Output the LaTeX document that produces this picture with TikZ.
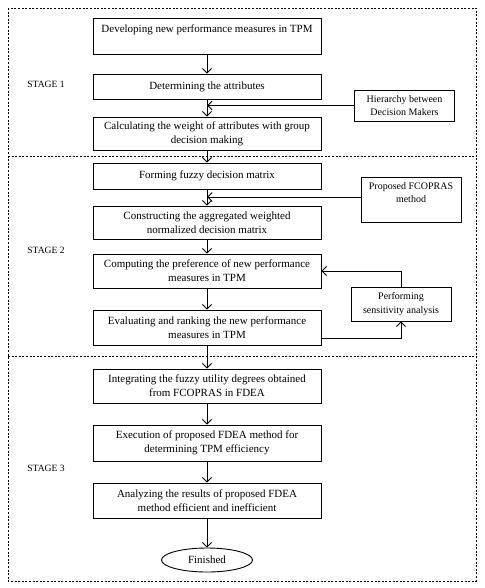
\documentclass[tikz,border=0pt]{standalone}
\usepackage{fontspec}
\setmainfont{Liberation Serif}
\usetikzlibrary{arrows.meta,shapes.geometric}

\begin{document}
\begin{tikzpicture}[x=1pt,y=-1pt,
    stepbox/.style={draw,line width=0.9pt,minimum width=228pt,inner sep=1pt,
        align=center,font=\fontsize{11}{14}\selectfont},
    sidebox/.style={draw,line width=0.9pt,minimum width=100pt,inner sep=1pt,
        align=center,font=\fontsize{10}{13.5}\selectfont},
    stagelabel/.style={font=\fontsize{9.6}{11}\selectfont},
    frame/.style={line width=0.9pt,dash pattern=on 2pt off 1.6pt},
    flow/.style={line width=0.9pt,-{Straight Barb[length=4.5pt,width=9pt]}}]
    \useasboundingbox (0,0) rectangle (484,588);

    % stage frames
    \draw[frame] (8,8) rectangle (476,581);
    \draw[frame] (8,156) -- (476,156);
    \draw[frame] (8,356) -- (476,356);

    \node[stagelabel] (stageone) at (46,84) {STAGE 1};
    \node[stagelabel] (stagetwo) at (46,250) {STAGE 2};
    \node[stagelabel] (stagethree) at (46,468) {STAGE 3};

    % main column
    \node[stepbox,minimum height=36pt] (dev) at (207,36) {Developing new performance measures in TPM\\\mbox{}};
    \node[stepbox,minimum height=25pt] (attr) at (207,86.5) {Determining the attributes};
    \node[stepbox,minimum height=33pt] (weight) at (207,133.5) {Calculating the weight of attributes with group\\decision making};
    \node[stepbox,minimum height=26pt] (fuzzy) at (207,176) {Forming fuzzy decision matrix};
    \node[stepbox,minimum height=33pt] (aggr) at (207,222.5) {Constructing the aggregated weighted\\normalized decision matrix};
    \node[stepbox,minimum height=34pt] (pref) at (207,271) {Computing the preference of new performance\\measures in TPM};
    \node[stepbox,minimum height=35pt] (rank) at (207,327.5) {Evaluating and ranking the new performance\\measures in TPM};
    \node[stepbox,minimum height=34pt] (integ) at (207,386) {Integrating the fuzzy utility degrees obtained\\from FCOPRAS in FDEA};
    \node[stepbox,minimum height=36pt] (exec) at (207,443) {Execution of proposed FDEA method for\\determining TPM efficiency};
    \node[stepbox,minimum height=35pt] (analyze) at (207,500.5) {Analyzing the results of proposed FDEA\\method efficient and inefficient};
    \node[draw,ellipse,line width=0.9pt,minimum width=91pt,minimum height=24pt,
        font=\fontsize{11}{13}\selectfont] (finish) at (207,560) {Finished};

    % side boxes
    \node[sidebox,minimum height=31pt] (hier) at (404.5,105.5) {Hierarchy between\\Decision Makers};
    \node[sidebox,minimum height=45pt] (fcopras) at (411,199.5) {Proposed FCOPRAS\\method\\\mbox{}};
    \node[sidebox,minimum height=34pt] (sens) at (401,304) {Performing\\sensitivity analysis};

    % connectors
    \foreach \a/\b in {dev/attr,attr/weight,weight/fuzzy,fuzzy/aggr,aggr/pref,
        pref/rank,rank/integ,integ/exec,exec/analyze,analyze/finish}
        \draw[flow] (\a.south) -- (\b.north);

    \draw[flow] (hier.west) -- (hier.west -| attr.south);
    \draw[flow] ([yshift=2.5pt]fcopras.west) -- ([yshift=2.5pt]fcopras.west -| fuzzy.south);
    \draw[flow] ([yshift=-11pt]rank.east) -| (sens.south);
    \draw[flow] (sens.north) |- (pref.east);
\end{tikzpicture}
\end{document}
